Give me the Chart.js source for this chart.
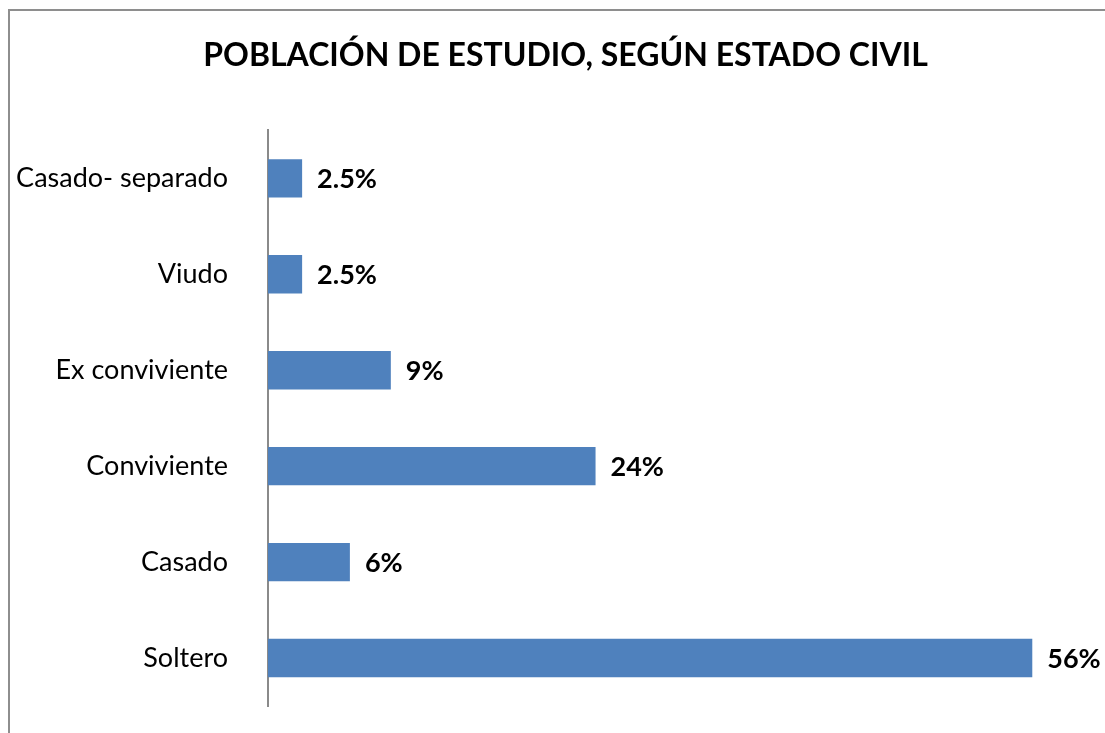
<!DOCTYPE html>
<html>
<head>
<meta charset="utf-8">
<script src="https://cdn.jsdelivr.net/npm/chart.js@4/dist/chart.umd.min.js"></script>
<style>
    html, body { margin: 0; padding: 0; overflow: hidden; background: #fff; width: 1105px; height: 733px; }
    #marco {
        position: absolute; left: 8px; top: 9px; width: 1200px; height: 800px;
        border: 2px solid #8e8e8e;
    }
    #estadoCivil { position: absolute; left: 0; top: 0; }
</style>
</head>
<body>
<div id="marco"></div>
<canvas id="estadoCivil" width="1130" height="733"></canvas>
<script>
    // datos (de arriba hacia abajo)
    let categorias = ['Casado- separado', 'Viudo', 'Ex conviviente', 'Conviviente', 'Casado', 'Soltero'];
    let porcentajes = [2.5, 2.5, 9, 24, 6, 56];
    let etiquetas = ['2.5%', '2.5%', '9%', '24%', '6%', '56%'];

    let fuente = 'Lato, "Open Sans", sans-serif';

    // escribe el porcentaje a la derecha de cada barra
    let etiquetasBarras = {
        id: 'etiquetasBarras',
        afterDatasetsDraw(chart) {
            let ctx = chart.ctx;
            let meta = chart.getDatasetMeta(0);
            ctx.save();
            ctx.font = 'bold 27px ' + fuente;
            ctx.fillStyle = '#000';
            ctx.textAlign = 'left';
            ctx.textBaseline = 'middle';
            meta.data.forEach(function (barra, i) {
                ctx.fillText(etiquetas[i], barra.x + 15, barra.y + 1);
            });
            ctx.restore();
        }
    };

    let grafico = document.getElementById('estadoCivil').getContext('2d');

    new Chart(grafico, {
        type: 'bar',

        data: {
            labels: categorias,
            datasets: [{
                data: porcentajes,
                backgroundColor: 'rgb(79, 129, 189)',
                borderWidth: 0,
                categoryPercentage: 0.8,
                barPercentage: 0.5
            }]
        },

        options: {
            indexAxis: 'y',
            responsive: false,
            animation: false,
            events: [],
            layout: {
                padding: {left: 10, right: 9, top: 0, bottom: 27}
            },
            plugins: {
                legend: {display: false},
                tooltip: {enabled: false},
                title: {
                    display: true,
                    text: 'POBLACIÓN DE ESTUDIO, SEGÚN ESTADO CIVIL',
                    color: '#000',
                    font: {family: fuente, size: 32, weight: 'bold'},
                    padding: {top: 36, bottom: 56}
                }
            },
            scales: {
                x: {
                    display: false,
                    min: 0,
                    max: 62.5
                },
                y: {
                    grid: {display: false, drawTicks: false},
                    border: {display: true, color: '#8a8a8a', width: 2},
                    ticks: {
                        color: '#000',
                        padding: 40,
                        font: {family: fuente, size: 27}
                    },
                    afterFit(scale) {
                        scale.width = 258;
                        scale.paddingTop = 0;
                        scale.paddingBottom = 0;
                    }
                }
            }
        },

        plugins: [etiquetasBarras]
    });
</script>
</body>
</html>
